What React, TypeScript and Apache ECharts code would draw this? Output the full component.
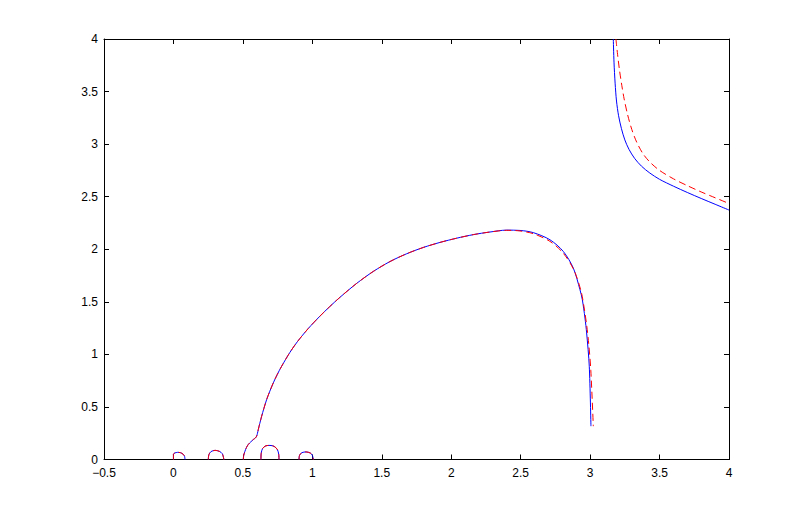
import React, { useEffect, useRef } from "react";
import * as echarts from "echarts";

const xTicks = [-0.5, 0, 0.5, 1, 1.5, 2, 2.5, 3, 3.5, 4];
const yTicks = [0, 0.5, 1, 1.5, 2, 2.5, 3, 3.5, 4];

const mainStart: number[][] = [
  [0.503, 0], [0.506, 0.04], [0.515, 0.079], [0.526, 0.115], [0.539, 0.143], [0.557, 0.168],
  [0.575, 0.19], [0.59, 0.205], [0.599, 0.222], [0.605, 0.25], [0.611, 0.285], [0.622, 0.345],
  [0.635, 0.411], [0.651, 0.485], [0.671, 0.57], [0.694, 0.65], [0.719, 0.729], [0.748, 0.81],
  [0.779, 0.887], [0.839, 1.02], [0.892, 1.12], [0.97, 1.245], [1.055, 1.364], [1.125, 1.454],
  [1.199, 1.543], [1.319, 1.675], [1.439, 1.789], [1.559, 1.883], [1.679, 1.957], [1.799, 2.017],
  [1.919, 2.065], [2.039, 2.105], [2.159, 2.139], [2.279, 2.164],
];

const blueMainEnd: number[][] = [
  [2.399, 2.182], [2.495, 2.179], [2.591, 2.158], [2.711, 2.09], [2.807, 1.979], [2.879, 1.821],
  [2.927, 1.615], [2.944, 1.52], [2.963, 1.346], [2.975, 1.204], [2.994, 0.887], [3.006, 0.317],
];

const redMainEnd: number[][] = [
  [2.399, 2.18], [2.495, 2.174], [2.591, 2.148], [2.711, 2.075], [2.807, 1.962], [2.884, 1.8],
  [2.935, 1.6], [2.955, 1.46], [2.975, 1.28], [2.99, 1.1], [3.005, 0.85], [3.023, 0.317],
];

const blueTop: number[][] = [
  [3.167, 4], [3.172, 3.78], [3.18, 3.58], [3.19, 3.41], [3.205, 3.27], [3.225, 3.15],
  [3.25, 3.04], [3.28, 2.95], [3.32, 2.865], [3.37, 2.79], [3.43, 2.725], [3.5, 2.665],
  [3.6, 2.6], [3.7, 2.54], [3.8, 2.483], [3.9, 2.428], [4.0, 2.373],
];

const redTop: number[][] = [
  [3.186, 4], [3.198, 3.85], [3.212, 3.7], [3.228, 3.56], [3.245, 3.43], [3.27, 3.28],
  [3.3, 3.14], [3.335, 3.02], [3.38, 2.91], [3.43, 2.83], [3.5, 2.75], [3.6, 2.67],
  [3.7, 2.605], [3.8, 2.545], [3.9, 2.49], [4.0, 2.435],
];

const arc0: number[][] = [
  [0.0, 0], [0.0, 0.05], [0.01, 0.062], [0.03, 0.068], [0.05, 0.065], [0.07, 0.05], [0.08, 0.03], [0.083, 0],
];
const arc1: number[][] = [
  [0.251, 0], [0.255, 0.045], [0.27, 0.075], [0.3, 0.087], [0.33, 0.078], [0.352, 0.055], [0.363, 0],
];
const arc2: number[][] = [
  [0.63, 0], [0.632, 0.06], [0.642, 0.105], [0.665, 0.13], [0.695, 0.134], [0.725, 0.125],
  [0.748, 0.095], [0.758, 0.05], [0.76, 0],
];
const arc3: number[][] = [
  [0.904, 0], [0.908, 0.04], [0.925, 0.065], [0.955, 0.072], [0.985, 0.062], [1.0, 0.04], [1.007, 0],
];

const BLUE = "#0000ff";
const RED = "#ff0000";

export default function App() {
  const ref = useRef<HTMLDivElement>(null);
  useEffect(() => {
    if (!ref.current) return;
    const chart = echarts.init(ref.current, null, { renderer: "svg" });
    const fmt = (v: number) => (v < 0 ? "\u2212" + String(-v) : String(v));
    const labelStyle = {
      color: "#000",
      fontSize: 12,
      fontFamily: "Liberation Sans, Arial, sans-serif",
    };
    const lineStyleAxis = { color: "#000", width: 1 };
    const tick = { show: true, inside: true, length: 5, lineStyle: { color: "#000", width: 1 } };
    const common = {
      interval: 0.5,
      splitLine: { show: false },
      axisLine: { show: true, onZero: false, lineStyle: lineStyleAxis },
      axisTick: tick,
    };
    const mk = (name: string, data: number[][], color: string, dashed: boolean, z: number) => ({
      name,
      type: "line",
      data,
      showSymbol: false,
      symbol: "none",
      smooth: 0.3,
      z,
      lineStyle: { color, width: 1, type: dashed ? [7, 4] : "solid" },
    });
    const blueMain = [...mainStart, ...blueMainEnd];
    const redMain = [...mainStart, ...redMainEnd];
    chart.setOption({
      animation: false,
      backgroundColor: "#fff",
      grid: { left: 104, right: 77, top: 39, bottom: 58.5, containLabel: false },
      xAxis: [
        {
          ...common,
          type: "value",
          position: "bottom",
          min: xTicks[0],
          max: xTicks[xTicks.length - 1],
          axisLabel: { ...labelStyle, margin: 7, formatter: fmt },
        },
        {
          ...common,
          type: "value",
          position: "top",
          min: xTicks[0],
          max: xTicks[xTicks.length - 1],
          axisLabel: { show: false },
        },
      ],
      yAxis: [
        {
          ...common,
          type: "value",
          position: "left",
          min: yTicks[0],
          max: yTicks[yTicks.length - 1],
          axisLabel: { ...labelStyle, margin: 6, formatter: fmt },
        },
        {
          ...common,
          type: "value",
          position: "right",
          min: yTicks[0],
          max: yTicks[yTicks.length - 1],
          axisLabel: { show: false },
        },
      ],
      series: [
        mk("blueMain", blueMain, BLUE, false, 2),
        mk("blueTop", blueTop, BLUE, false, 2),
        mk("blueArc0", arc0, BLUE, false, 2),
        mk("blueArc1", arc1, BLUE, false, 2),
        mk("blueArc2", arc2, BLUE, false, 2),
        mk("blueArc3", arc3, BLUE, false, 2),
        mk("redMain", redMain, RED, true, 3),
        mk("redTop", redTop, RED, true, 3),
        mk("redArc0", arc0, RED, true, 3),
        mk("redArc1", arc1, RED, true, 3),
        mk("redArc2", arc2, RED, true, 3),
        mk("redArc3", arc3, RED, true, 3),
      ],
    });
    return () => chart.dispose();
  }, []);
  return <div ref={ref} style={{ width: 806, height: 518, position: "absolute", left: 0, top: 0 }} />;
}
